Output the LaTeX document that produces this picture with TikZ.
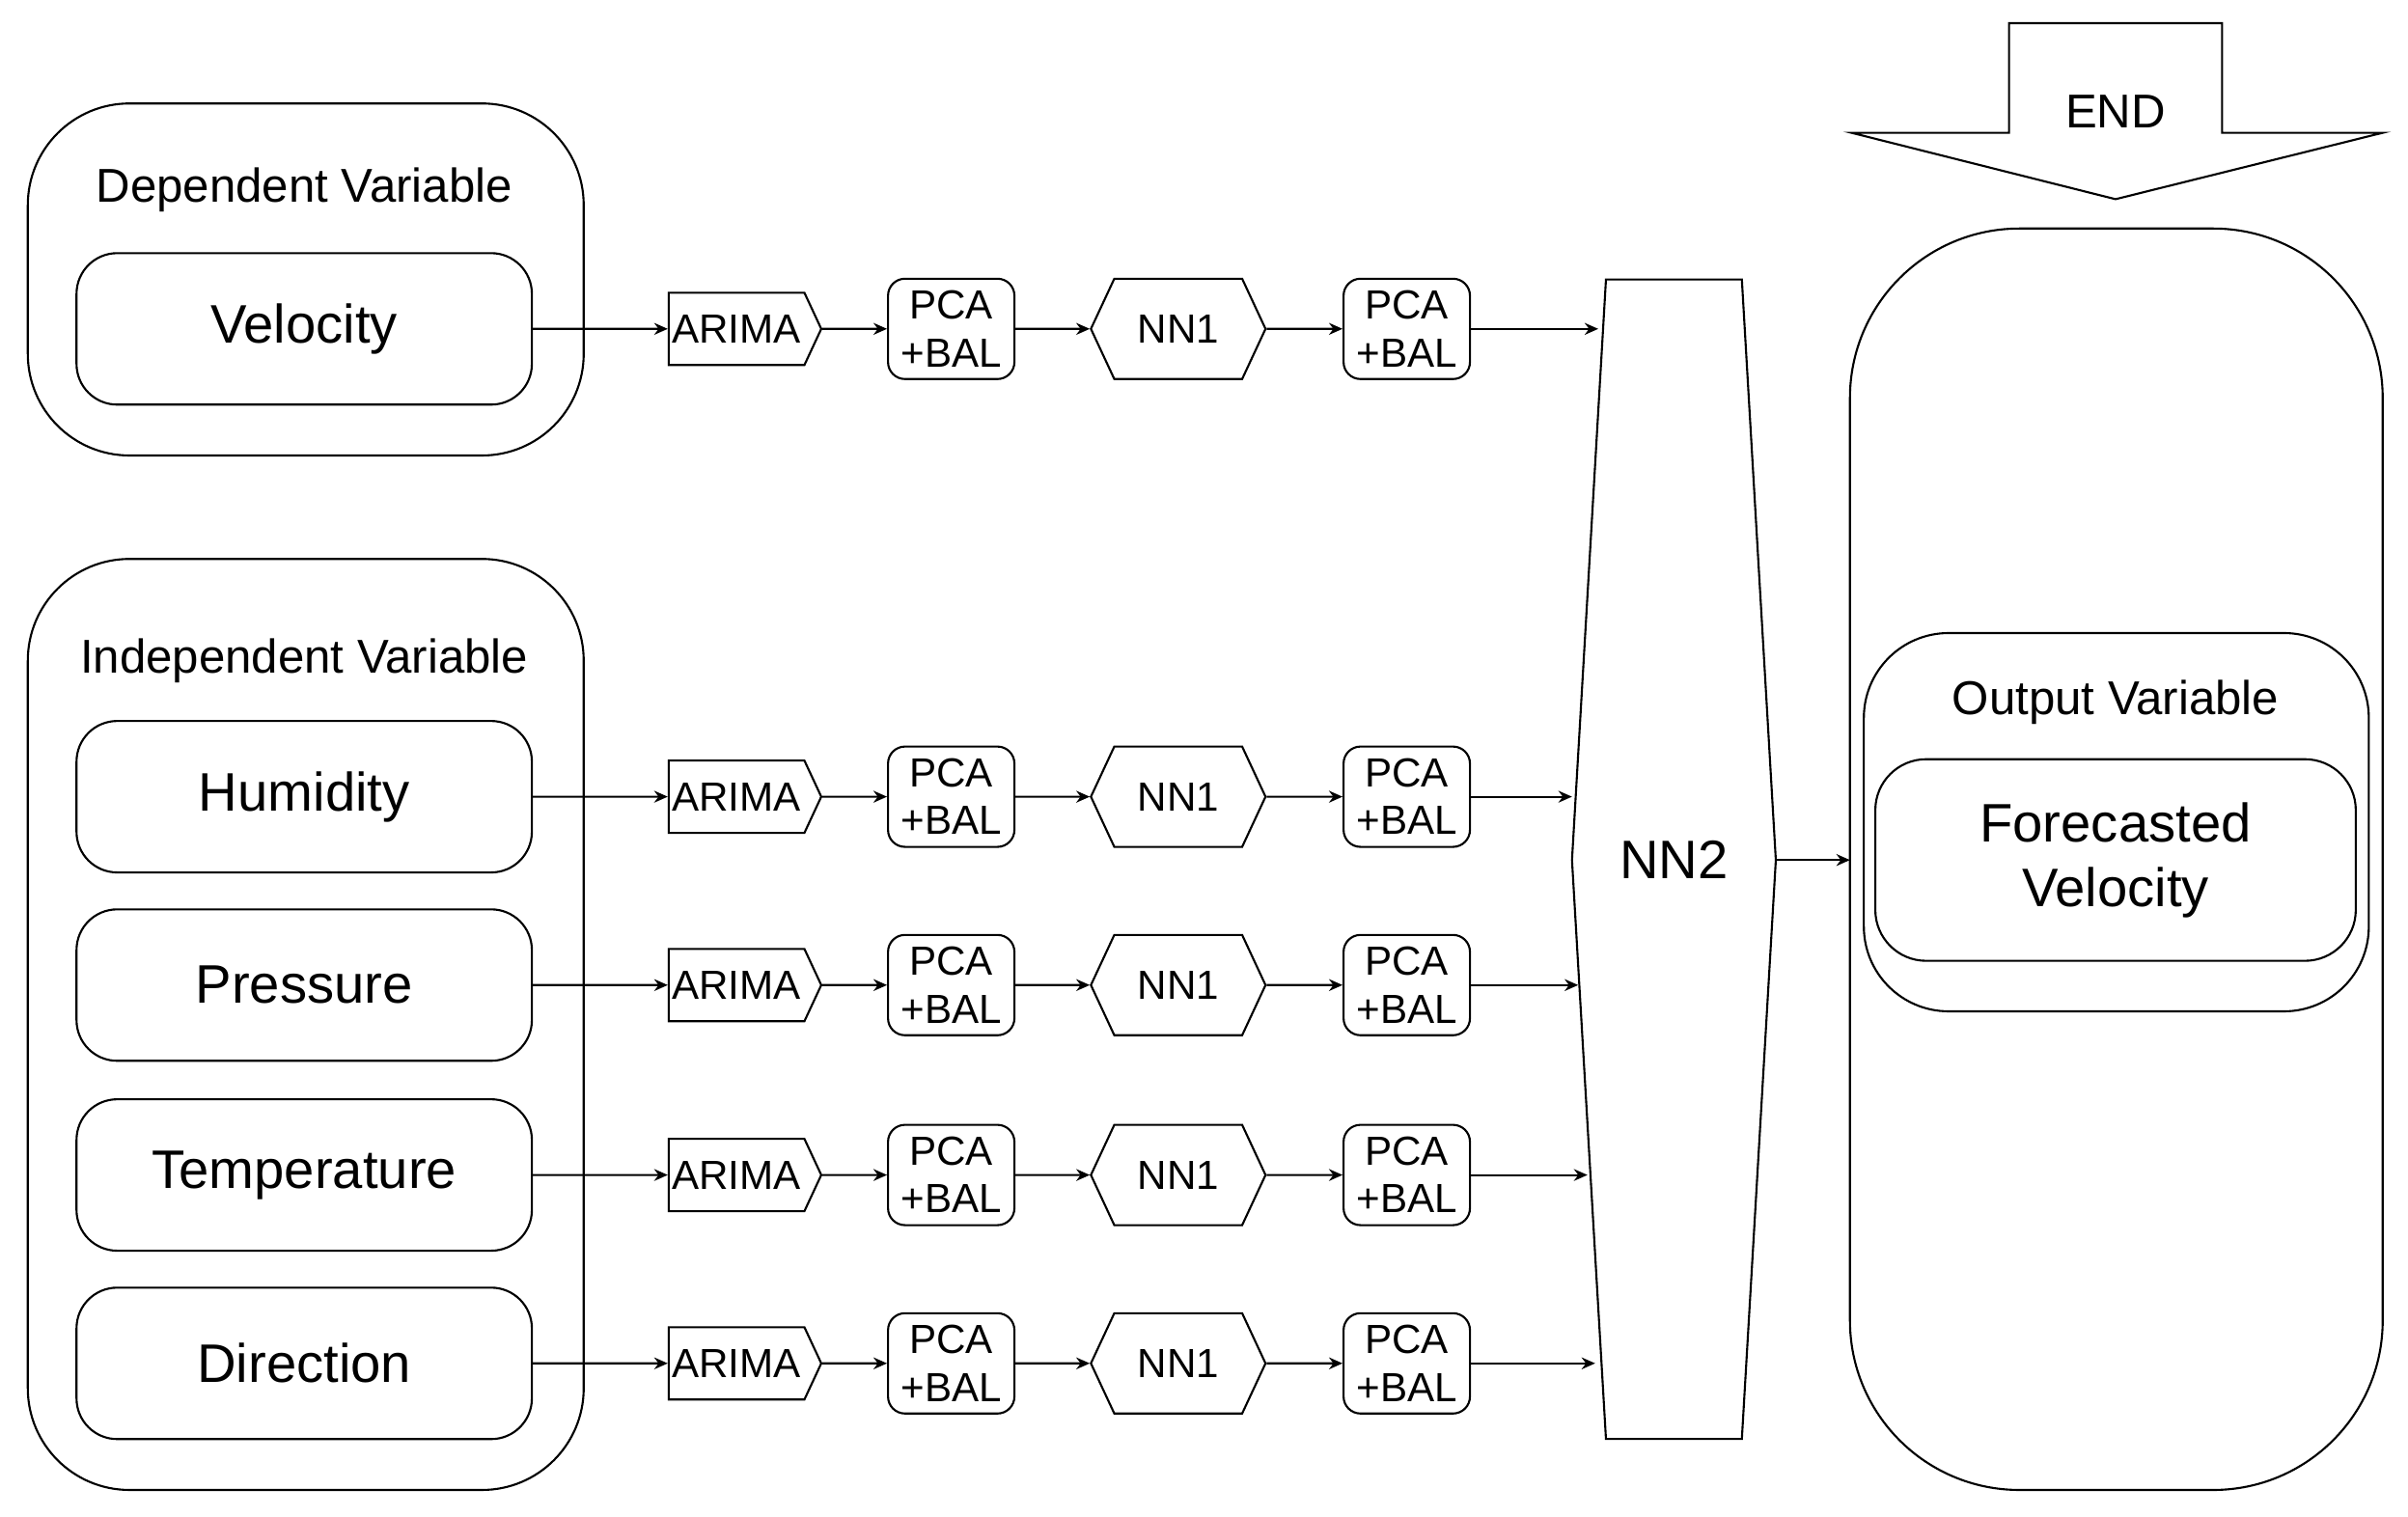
\documentclass[tikz,border=0pt]{standalone}
\usepackage{fontspec}
\setmainfont{Liberation Sans}
\usetikzlibrary{shapes.symbols,arrows.meta}

\tikzset{
  caixa/.style = {draw, rounded corners=12pt, minimum width=4.72cm, minimum height=1.57cm, font=\fontsize{16}{19}\selectfont},
  arima/.style = {draw, shape=signal, signal to=east, signal pointer angle=130, minimum width=1.58cm, minimum height=0.75cm, inner sep=1pt, font=\fontsize{12}{14}\selectfont},
  pca/.style = {draw, rounded corners=5pt, minimum width=1.31cm, minimum height=1.04cm, inner sep=1pt, align=center, font=\fontsize{12}{14}\selectfont},
  nn/.style = {draw, shape=signal, signal to=east and west, signal pointer angle=130, minimum width=1.81cm, minimum height=1.04cm, font=\fontsize{12}{14}\selectfont},
  fletxa/.style = {-{Stealth[length=4pt,width=3.5pt]}, line width=0.6pt}
}

\begin{document}
\begin{tikzpicture}[x=0.016cm, y=-0.016cm, line width=0.6pt]
  \useasboundingbox (0,0) rectangle (1559.4,981.9);
  % variables d'entrada
  \draw[rounded corners=30pt] (18,67) rectangle (378,295);
  \node[font=\fontsize{14}{17}\selectfont] at (197,123) {Dependent Variable};
  \draw[rounded corners=30pt] (18,362) rectangle (378,965);
  \node[font=\fontsize{14}{17}\selectfont] at (197,428) {Independent Variable};
  \node[caixa] (v1) at (197,213) {Velocity};
  \node[caixa] (v2) at (197,516) {Humidity};
  \node[caixa] (v3) at (197,638) {Pressure};
  \node[caixa] (v4) at (197,761) {Temperature};
  \node[caixa] (v5) at (197,883) {Direction};
  % NN2
  \draw (1040,181) -- (1128,181) -- (1150,557) -- (1128,932) -- (1040,932) -- (1018,557) -- cycle;
  \node[font=\fontsize{16}{19}\selectfont] (nn2) at (1084,557) {NN2};
  \coordinate (nnr) at (1150,557);
  % files
  \foreach \i/\y/\xe in {1/213/1035, 2/516/1018, 3/638/1022, 4/761/1028, 5/883/1033} {
    \node[arima] (a\i) at (477,\y) {ARIMA};
    \node[pca] (p\i) at (616,\y) {PCA\\+BAL};
    \node[nn] (n\i) at (763,\y) {NN1};
    \node[pca] (q\i) at (911,\y) {PCA\\+BAL};
    \coordinate (e\i) at (\xe,\y);
    \draw[fletxa] (v\i) -- (a\i);
    \draw[fletxa] (a\i) -- (p\i);
    \draw[fletxa] (p\i) -- (n\i);
    \draw[fletxa] (n\i) -- (q\i);
    \draw[fletxa] (q\i) -- (e\i);
  }
  % sortida
  \draw[rounded corners=50pt] (1198,148) rectangle (1543,965);
  \coordinate (out) at (1198,557);
  \draw[fletxa] (nnr) -- (out);
  \draw[rounded corners=25pt] (1207,410) rectangle (1534,655);
  \node[font=\fontsize{14}{17}\selectfont] at (1370,455) {Output Variable};
  \node[caixa, minimum width=4.98cm, minimum height=2.09cm, align=center, rounded corners=15pt] (fv) at (1370,557) {Forecasted\\Velocity};
  % fletxa END
  \draw (1301,15) -- (1439,15) -- (1439,86) -- (1543,86) -- (1370,129) -- (1199,86) -- (1301,86) -- cycle;
  \node[font=\fontsize{14}{17}\selectfont] (end) at (1370,72) {END};
\end{tikzpicture}
\end{document}
